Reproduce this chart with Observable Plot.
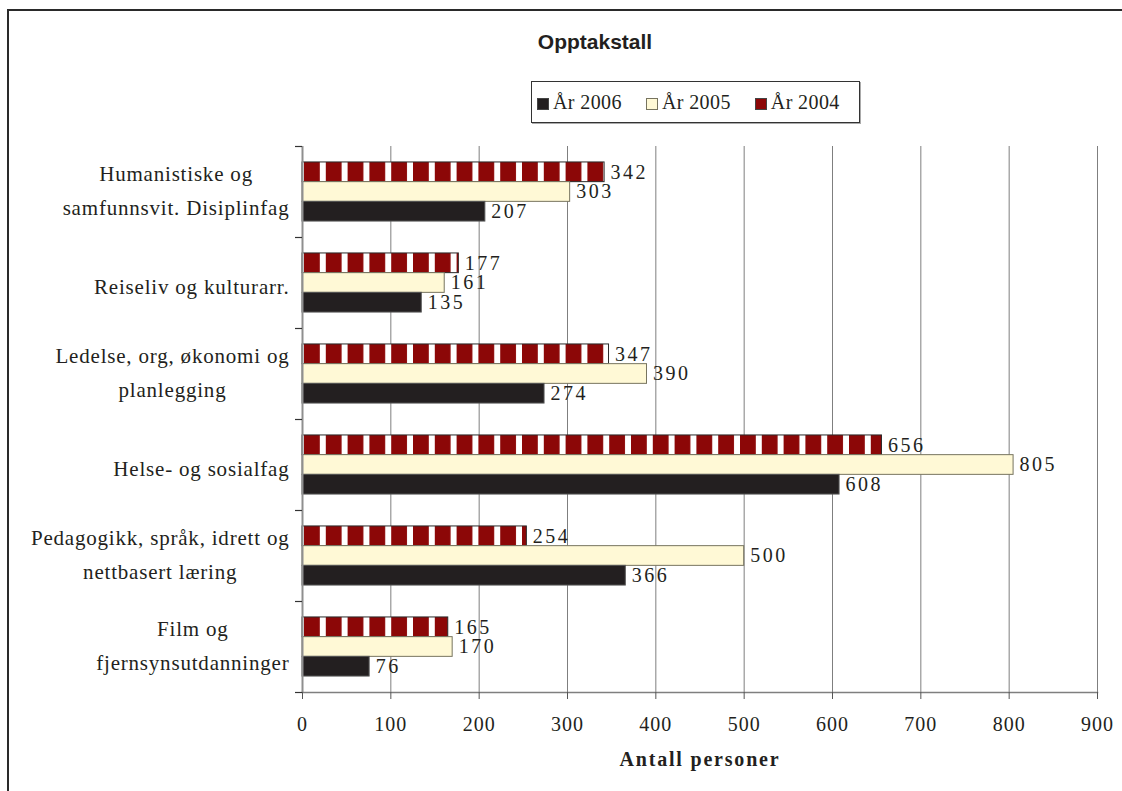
<!DOCTYPE html>
<html>
<head>
<meta charset="utf-8">
<script src="https://cdn.jsdelivr.net/npm/d3@7"></script>
<script src="https://cdn.jsdelivr.net/npm/@observablehq/plot@0.6"></script>
<style>
  html, body { margin: 0; background: #fff; overflow: hidden; }
  #wrap { position: relative; width: 1122px; height: 791px; overflow: hidden; background: #fff; font-family: "Liberation Serif", "Times New Roman", serif; }
  #border { position: absolute; left: 0; top: 0; }
  #title { position: absolute; left: 0; width: 1190px; top: 30px; line-height: 21px; text-align: center; font: bold 21px "Liberation Sans", Arial, sans-serif; color: #231f20; }
  #legend { position: absolute; left: 531px; top: 81px; width: 329px; height: 42px; border: 1px solid #333; box-shadow: 1px 1px 0 #aaa; display: flex; align-items: center; padding-left: 5px; box-sizing: border-box; gap: 24px; font-size: 20px; color: #231f20; letter-spacing: 0.4px; }
  #legend .item { display: flex; align-items: center; gap: 4px; }
  #legend .sw { display: inline-block; width: 12px; height: 12px; box-sizing: border-box; margin-top: 4px; }
  #chart { position: absolute; left: 0; top: 130px; }
</style>
</head>
<body>
<div id="wrap">
  <svg id="border" width="1122" height="791"><path d="M8,791V10H1122" fill="none" stroke="#2a2a2a" stroke-width="2"/></svg>
  <div id="title">Opptakstall</div>
  <div id="legend"></div>
  <div id="chart"></div>
</div>
<script>
// ---- data ----
const categories = [
  "Humanistiske og\nsamfunnsvit. Disiplinfag",
  "Reiseliv og kulturarr.",
  "Ledelse, org, økonomi og\nplanlegging",
  "Helse- og sosialfag",
  "Pedagogikk, språk, idrett og\nnettbasert læring",
  "Film og\nfjernsynsutdanninger"
];
const seriesNames = ["År 2006", "År 2005", "År 2004"];
const values2006 = [207, 135, 274, 608, 366, 76];
const values2005 = [303, 161, 390, 805, 500, 170];
const values2004 = [342, 177, 347, 656, 254, 165];
const xTicks = [0, 100, 200, 300, 400, 500, 600, 700, 800, 900];
const xLabel = "Antall personer";

// ---- styles ----
const colors = { "År 2006": "#231f20", "År 2005": "#fff9d6", "År 2004": "#8c0707" };
const strokes = { "År 2006": "#555555", "År 2005": "#77745f", "År 2004": "#2a2a2a" };

// ---- layout ----
const W = 1122, H = 661, mt = 16, mb = 99, ml = 302, mr = 25;
const band = (H - mt - mb) / categories.length;
const barH = 19.7;
const off = (band - 3 * barH) / 2;

const rows = (vals) => categories.map((c, i) => ({ category: c, value: vals[i] }));
const r2004 = rows(values2004), r2005 = rows(values2005), r2006 = rows(values2006);

const textOpts = { x: "value", y: "category", text: d => String(d.value), dx: 6, textAnchor: "start", fontSize: 20, fill: "#231f20", className: "vlabel" };

const plot = Plot.plot({
  width: W, height: H,
  marginTop: mt, marginBottom: mb, marginLeft: ml, marginRight: mr,
  style: { fontFamily: "'Liberation Serif', 'Times New Roman', serif", background: "transparent", color: "#231f20" },
  x: { domain: [0, 900] },
  y: { domain: categories, padding: 0 },
  marks: [
    Plot.gridX(xTicks, { stroke: "#7f7f7f", strokeOpacity: 1, strokeWidth: 1 }),
    Plot.barX(r2004, { x: "value", y: "category", fill: "url(#hatch2004)", stroke: strokes["År 2004"], strokeWidth: 1, insetTop: off, insetBottom: band - off - barH }),
    Plot.barX(r2005, { x: "value", y: "category", fill: colors["År 2005"], stroke: strokes["År 2005"], strokeWidth: 1, insetTop: off + barH, insetBottom: band - off - 2 * barH }),
    Plot.barX(r2006, { x: "value", y: "category", fill: colors["År 2006"], stroke: strokes["År 2006"], strokeWidth: 1, insetTop: off + 2 * barH, insetBottom: off }),
    Plot.ruleX([0], { stroke: "#8f8f8f", strokeWidth: 2 }),
    Plot.frame({ anchor: "bottom", stroke: "#7f7f7f", strokeWidth: 1.5 }),
    Plot.tickY(categories, { y: d => d, dy: -band / 2, insetLeft: -7, insetRight: W - ml - mr, stroke: "#333", strokeWidth: 1.2 }),
    Plot.tickY(categories.slice(-1), { y: d => d, dy: band / 2, insetLeft: -7, insetRight: W - ml - mr, stroke: "#333", strokeWidth: 1.2 }),
    Plot.text(r2004, { ...textOpts, dy: -barH }),
    Plot.text(r2005, { ...textOpts, dy: 0 }),
    Plot.text(r2006, { ...textOpts, dy: barH }),
    Plot.axisX(xTicks, { anchor: "bottom", tickSize: 7, tickPadding: 17, fontSize: 20, label: null, stroke: "#555" }),
    Plot.axisY({ anchor: "left", tickSize: 0, tickPadding: 13, fontSize: 21, lineHeight: 1.62, label: null }),
    Plot.text([xLabel], { frameAnchor: "bottom", dy: 73, fontSize: 20, fontWeight: "bold", fill: "#231f20", className: "xlabel" })
  ]
});

document.getElementById("chart").appendChild(plot);

// hatch pattern for 2004 bars, aligned to x = 0
const ns = "http://www.w3.org/2000/svg";
const x0 = plot.scale("x").apply(0);
const defs = document.createElementNS(ns, "defs");
const pat = document.createElementNS(ns, "pattern");
pat.setAttribute("id", "hatch2004");
pat.setAttribute("patternUnits", "userSpaceOnUse");
pat.setAttribute("x", x0 + 2);
pat.setAttribute("y", 0);
pat.setAttribute("width", 21.8);
pat.setAttribute("height", 10);
const bg = document.createElementNS(ns, "rect");
bg.setAttribute("width", 21.8); bg.setAttribute("height", 10); bg.setAttribute("fill", "#ffffff");
const fg = document.createElementNS(ns, "rect");
fg.setAttribute("width", 15.8); fg.setAttribute("height", 10); fg.setAttribute("fill", colors["År 2004"]);
pat.appendChild(bg); pat.appendChild(fg);
defs.appendChild(pat);
plot.insertBefore(defs, plot.firstChild);

// letter spacing + centre multi-line category labels on their own block (Excel style)
plot.querySelectorAll('g[aria-label="y-axis tick label"] text').forEach(t => {
  t.setAttribute("letter-spacing", "0.8");
  const w = t.getBBox().width;
  const multi = t.querySelectorAll("tspan").length > 1;
  t.setAttribute("text-anchor", "middle");
  const tr = t.getAttribute("transform") || "";
  t.setAttribute("transform", tr + ` translate(${-w / 2},${multi ? -4.5 : 0})`);
});
plot.querySelectorAll('g[aria-label="x-axis tick label"] text').forEach(t => t.setAttribute("letter-spacing", "1"));
plot.querySelectorAll('.vlabel').forEach(g => g.setAttribute("letter-spacing", "2.5"));
plot.querySelectorAll('.xlabel').forEach(g => g.setAttribute("letter-spacing", "1.8"));

// legend
const legend = document.getElementById("legend");
seriesNames.forEach(name => {
  const item = document.createElement("span");
  item.className = "item";
  const sw = document.createElement("span");
  sw.className = "sw";
  sw.style.background = colors[name];
  sw.style.border = `1px solid ${name === "År 2005" ? "#77745f" : "#444"}`;
  const label = document.createElement("span");
  label.textContent = name;
  item.appendChild(sw); item.appendChild(label);
  legend.appendChild(item);
});
</script>
</body>
</html>
